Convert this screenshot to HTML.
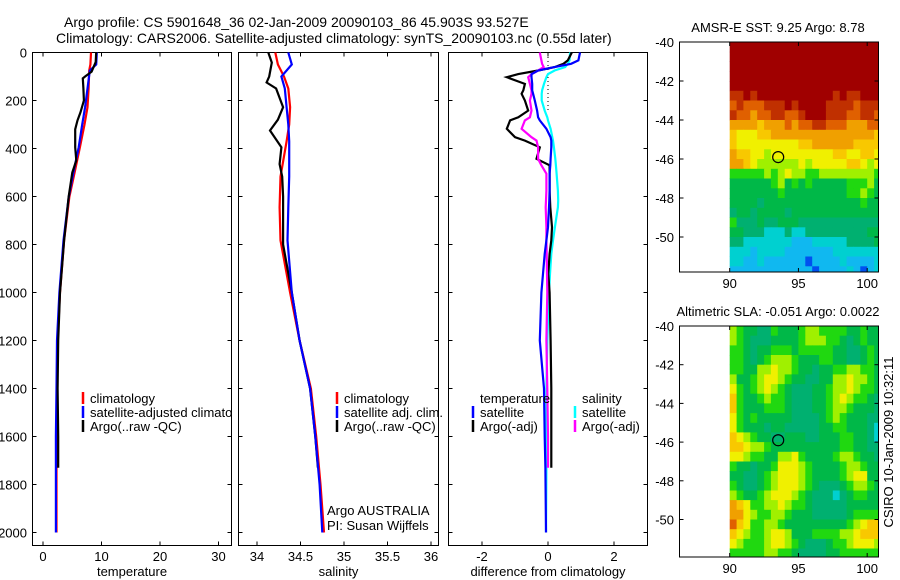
<!DOCTYPE html>
<html><head><meta charset="utf-8">
<style>
html,body{margin:0;padding:0;background:#fff;}
svg{display:block;font-family:"Liberation Sans",sans-serif;}
</style></head>
<body>
<svg id="fig" width="900" height="580" viewBox="0 0 900 580" xmlns="http://www.w3.org/2000/svg">
<defs><clipPath id="clipT"><rect x="32.5" y="52.5" width="199" height="493"/></clipPath></defs>
<text x="64" y="27" font-size="14">Argo profile: CS 5901648_36 02-Jan-2009 20090103_86 45.903S 93.527E</text>
<text x="56" y="43" font-size="14">Climatology: CARS2006. Satellite-adjusted climatology: synTS_20090103.nc (0.55d later)</text>
</svg>
<script>
// ---- data ----
const depthTicks=[0,200,400,600,800,1000,1200,1400,1600,1800,2000];
const tempTicks=[0,10,20,30];
const salTicks=[34,34.5,35,35.5,36];
const diffTicks=[-2,0,2];
const tClimDepth=[0,50,75,150,228,300,395,500,603,783,1000,1200,1400,1600,1800,2000];
const tClim=[8.2,8.1,7.9,7.8,7.6,7.1,6.3,5.4,4.5,3.6,2.9,2.5,2.4,2.3,2.3,2.3];
const tSat=[9.2,9.1,8.0,7.6,7.2,6.7,6.1,5.2,4.4,3.5,2.8,2.4,2.3,2.2,2.2,2.2];
const tArgoDepth=[0,40,80,100,108,150,200,250,283,320,350,395,450,500,600,783,1000,1200,1400,1600,1730];
const tArgo=[9.1,9.0,8.3,7.2,6.8,6.9,7.0,6.4,5.9,5.5,5.5,5.5,5.7,5.0,4.4,3.6,2.9,2.6,2.5,2.6,2.6];
const sClimDepth=[0,50,100,150,228,300,370,517,645,783,1000,1200,1400,1600,1800,2000];
const sClim=[34.21,34.24,34.31,34.36,34.38,34.37,34.34,34.27,34.26,34.27,34.38,34.49,34.62,34.68,34.73,34.77];
const sSat=[34.36,34.40,34.28,34.32,34.34,34.36,34.37,34.37,34.36,34.35,34.40,34.49,34.61,34.67,34.72,34.75];
const sArgoDepth=[0,42,100,125,150,228,280,325,395,465,517,600,800,1000,1200,1400,1600,1730];
const sArgo=[34.13,34.17,34.14,34.11,34.22,34.30,34.24,34.15,34.28,34.26,34.29,34.30,34.30,34.40,34.49,34.61,34.67,34.70];
const dDepth=[0,33,47,61,75,90,103,131,158,172,200,242,270,283,318,353,367,395,443,470,505,575,617,645,728,783,839,922,1000,1200,1400,1600,1730,2000];
const dTempSat=[0.97,0.92,0.7,0.2,-0.3,-0.5,-0.5,-0.48,-0.48,-0.45,-0.4,-0.33,-0.3,-0.25,-0.05,0.08,0.1,0.1,0.08,0.07,0.05,0.05,0.04,0.03,0.0,-0.05,-0.1,-0.15,-0.2,-0.25,-0.12,-0.1,-0.08,-0.06];
const dSalSat=[0.67,0.65,0.6,0.52,0.2,0.0,-0.05,-0.12,-0.18,-0.19,-0.19,-0.1,-0.02,0.0,0.08,0.13,0.15,0.18,0.22,0.24,0.26,0.3,0.31,0.3,0.21,0.15,0.1,0.06,0.03,-0.02,-0.05,-0.05,-0.05,-0.06];
const dTempArgo=[0.72,0.6,0.47,0.2,-0.3,-0.9,-1.25,-0.7,-0.75,-0.8,-0.7,-0.6,-0.9,-1.15,-1.25,-1.0,-0.7,-0.25,-0.35,0.05,0.05,0.05,0.06,0.07,0.12,0.1,0.05,0.01,0.05,0.08,0.1,0.1,0.1,null];
const dSalArgo=[-0.25,-0.2,-0.18,-0.13,-0.3,-0.5,-0.6,-0.55,-0.5,-0.5,-0.55,-0.5,-0.55,-0.7,-0.8,-0.5,-0.35,-0.3,-0.3,-0.2,-0.05,-0.05,-0.06,-0.07,-0.05,-0.05,-0.04,-0.03,-0.02,-0.05,-0.02,0.0,0.0,null];
const mapLonTicks=[90,95,100];
const mapLatTicks=[-40,-42,-44,-46,-48,-50];
const sstRows=["cccccccccccccccccccccc","cccccccccccccccccccccc","cccccccccccccccccccccc","cccccccccccccccccccccc","cccccccccccccccccccccc",
"bbcbcccccccccccbcbbccc","abaaabbbcbccccbbbbabbb","baa9aabbaabcccbbbaabba","99998999a9aabbaaa999aa","8777889999999999999998",
"8777777777889999998888","9887767777777778877887","9987666666767777788767","5555565676655666666665","4444445645454444455564",
"4444444544444444455654","4444344444444444444544","3443444434444444444444","5333433444333333333333","4433322232233333333344",
"3322222221112222233334","2221222211111112222222","2211211111101111211112","1111111111110111121012"];
const slaRows=["6544335444566555544544","6543334444566655434544","5543445554555554433454","5543456665444554433454","5544667665443445566554",
"6445677654433446676654","7545676543334456676554","8544565543334456765543","8544455543334456654443","7545444443333456544433",
"7544434433333445544432","8765443344433444554432","8876654444444444554433","7765544667544445665443","5443445777654444566544",
"4433456777654444567744","5433456777654333456654","6544567776543332345544","9875566765543333344444","9976556654443333345555",
"a875566544444444456788","8765567764445555667888","7655567765433345567776","5555566554333344555555"];
const palette={"0":"#0050f0","1":"#10b8f0","2":"#00d0d0","3":"#00b070","4":"#00b848","5":"#20d810","6":"#a0f000","7":"#f0f000","8":"#f8c800","9":"#f0a000","a":"#e06000","b":"#c03000","c":"#a00000"};
const argoLon=93.527, argoLat=-45.903;

// ---- drawing ----
const NS="http://www.w3.org/2000/svg";
const svg=document.getElementById('fig');
function mk(tag,attrs,parent){const e=document.createElementNS(NS,tag);for(const k in attrs)e.setAttribute(k,attrs[k]);(parent||svg).appendChild(e);return e;}
const Y0=52.5,Y1=545.5;
function yD(d){return 52.5+d*0.24;}
const panels=[
 {x0:32.5,x1:231.5,name:'temperature-panel',xlab:'temperature',ticks:tempTicks,px:5.85,zero:43},
 {x0:238.5,x1:438.5,name:'salinity-panel',xlab:'salinity',ticks:salTicks,px:87,zero:257,base:34},
 {x0:448.5,x1:647.5,name:'difference-panel',xlab:'difference from climatology',ticks:diffTicks,px:33,zero:548}
];
function px(p,v){return p.zero+(v-(p.base||0))*p.px;}
function line(p,depths,vals,color,name){
 let pts=[];
 depths.forEach((d,k)=>{if(vals[k]!==null&&vals[k]!==undefined)pts.push(px(p,vals[k]).toFixed(1)+','+yD(d).toFixed(1));});
 const l=mk('polyline',{points:pts.join(' '),fill:'none',stroke:color,'stroke-width':2.2,'stroke-linejoin':'miter'});
 
 
}
function legend(x,y,color,label,name,clip){
 const g=mk('g',{});
 
 
 if(clip)g.setAttribute('clip-path','url(#clipT)');
 if(color)mk('line',{x1:x,x2:x,y1:y-11,y2:y+1,stroke:color,'stroke-width':2.5},g);
 const t=mk('text',{x:x+7,y:y,'font-size':13},g);t.textContent=label;
}
legend(83,403,'#ff0000','climatology','legend-temp-climatology',true);
legend(83,417,'#0000ff','satellite-adjusted climatology','legend-temp-satellite',true);
legend(83,431,'#000000','Argo(..raw -QC)','legend-temp-argo',true);

panels.forEach((p,i)=>{
 const g=mk('g',{});
 
 
 const r=mk('rect',{x:p.x0,y:Y0,width:p.x1-p.x0,height:Y1-Y0,fill:'none',stroke:'#000','stroke-width':1},g);
 
 
 depthTicks.forEach(d=>{
  const y=yD(d);
  mk('line',{x1:p.x0,x2:p.x0+4,y1:y,y2:y,stroke:'#000'},g);
  mk('line',{x1:p.x1,x2:p.x1-4,y1:y,y2:y,stroke:'#000'},g);
  if(i===0){const t=mk('text',{x:27,y:y+5,'font-size':13,'text-anchor':'end'},g);t.textContent=d;
   
   }
 });
 p.ticks.forEach(v=>{
  const x=px(p,v);
  mk('line',{x1:x,x2:x,y1:Y1,y2:Y1-4,stroke:'#000'},g);
  mk('line',{x1:x,x2:x,y1:Y0,y2:Y0+4,stroke:'#000'},g);
  const t=mk('text',{x:x,y:561,'font-size':13,'text-anchor':'middle'},g);t.textContent=v;
  
  
 });
 const xl=mk('text',{x:(p.x0+p.x1)/2,y:576,'font-size':13,'text-anchor':'middle'},g);xl.textContent=p.xlab;
 
 
});
const dz=mk('line',{x1:548,x2:548,y1:53,y2:112,stroke:'#000','stroke-dasharray':'1,3'});


line(panels[0],tClimDepth,tClim,'#ff0000','temp-climatology-line');
line(panels[0],tClimDepth,tSat,'#0000ff','temp-satellite-line');
line(panels[0],tArgoDepth,tArgo,'#000000','temp-argo-line');
line(panels[1],sClimDepth,sClim,'#ff0000','sal-climatology-line');
line(panels[1],sArgoDepth,sArgo,'#000000','sal-argo-line');
line(panels[1],sClimDepth,sSat,'#0000ff','sal-satellite-line');
line(panels[2],dDepth,dSalSat,'#00ffff','diff-sal-satellite-line');
line(panels[2],dDepth,dTempArgo,'#000000','diff-temp-argo-line');
line(panels[2],dDepth,dSalArgo,'#ff00ff','diff-sal-argo-line');
line(panels[2],dDepth,dTempSat,'#0000ff','diff-temp-satellite-line');

legend(337,403,'#ff0000','climatology','legend-sal-climatology');
legend(337,417,'#0000ff','satellite adj. clim.','legend-sal-satellite');
legend(337,431,'#000000','Argo(..raw -QC)','legend-sal-argo');
legend(473,403,null,'temperature','legend-temperature-header');
legend(473,417,'#0000ff','satellite','legend-diff-temp-satellite');
legend(473,431,'#000000','Argo(-adj)','legend-diff-temp-argo');
legend(575,403,null,'salinity','legend-salinity-header');
legend(575,417,'#00ffff','satellite','legend-diff-sal-satellite');
legend(575,431,'#ff00ff','Argo(-adj)','legend-diff-sal-argo');
const a1=mk('text',{x:327,y:515,'font-size':13});a1.textContent='Argo AUSTRALIA';


const a2=mk('text',{x:327,y:530,'font-size':13});a2.textContent='PI: Susan Wijffels';



function drawMap(top,bottom,latPx,rows,title,name){
 const left=679.5,right=878.5,lon0=86.35,lonPx=13.75;
 const lx=v=>left+(v-lon0)*lonPx, ly=v=>top+(-40-v)*latPx;
 const g=mk('g',{});
 
 
 rows.forEach((row,r)=>{
  for(let c=0;c<row.length;c++){
   const la=-40-r*0.5, lo=90+c*0.5;
   const x=lx(lo), y=ly(la);
   const w=Math.min(lx(lo+0.5),right)-x, h=Math.min(ly(la-0.5),bottom)-y;
   const cell=mk('rect',{x:x.toFixed(1),y:y.toFixed(1),width:(w+0.4).toFixed(1),height:(h+0.4).toFixed(1),fill:palette[row[c]]},g);
   
   
  }
 });
 const fr=mk('rect',{x:left,y:top,width:right-left,height:bottom-top,fill:'none',stroke:'#000'},g);
 
 
 mapLatTicks.forEach(v=>{const y=ly(v);
  mk('line',{x1:left,x2:left+4,y1:y,y2:y,stroke:'#000'},g);
  mk('line',{x1:right,x2:right-4,y1:y,y2:y,stroke:'#000'},g);
  const t=mk('text',{x:674,y:y+5,'font-size':13,'text-anchor':'end'},g);t.textContent=v;
  
  });
 mapLonTicks.forEach(v=>{const x=lx(v);
  mk('line',{x1:x,x2:x,y1:bottom,y2:bottom-4,stroke:'#000'},g);
  mk('line',{x1:x,x2:x,y1:top,y2:top+4,stroke:'#000'},g);
  const t=mk('text',{x:x,y:bottom+16,'font-size':13,'text-anchor':'middle'},g);t.textContent=v;
  
  });
 const tt=mk('text',{x:778,y:top-10,'font-size':13,'text-anchor':'middle'},g);tt.textContent=title;
 
 
 const ci=mk('circle',{cx:lx(argoLon),cy:ly(argoLat),r:5.5,fill:'none',stroke:'#000','stroke-width':1.2},g);
 
 
}
drawMap(42,272,19.5,sstRows,'AMSR-E SST: 9.25 Argo: 8.78','sst-map');
drawMap(326,557,19.35,slaRows,'Altimetric SLA: -0.051 Argo: 0.0022','sla-map');
const cs=mk('text',{x:0,y:0,'font-size':13,'text-anchor':'middle',transform:'translate(893,442) rotate(-90)'});
cs.textContent='CSIRO 10-Jan-2009 10:32:11';


</script>
</body></html>
